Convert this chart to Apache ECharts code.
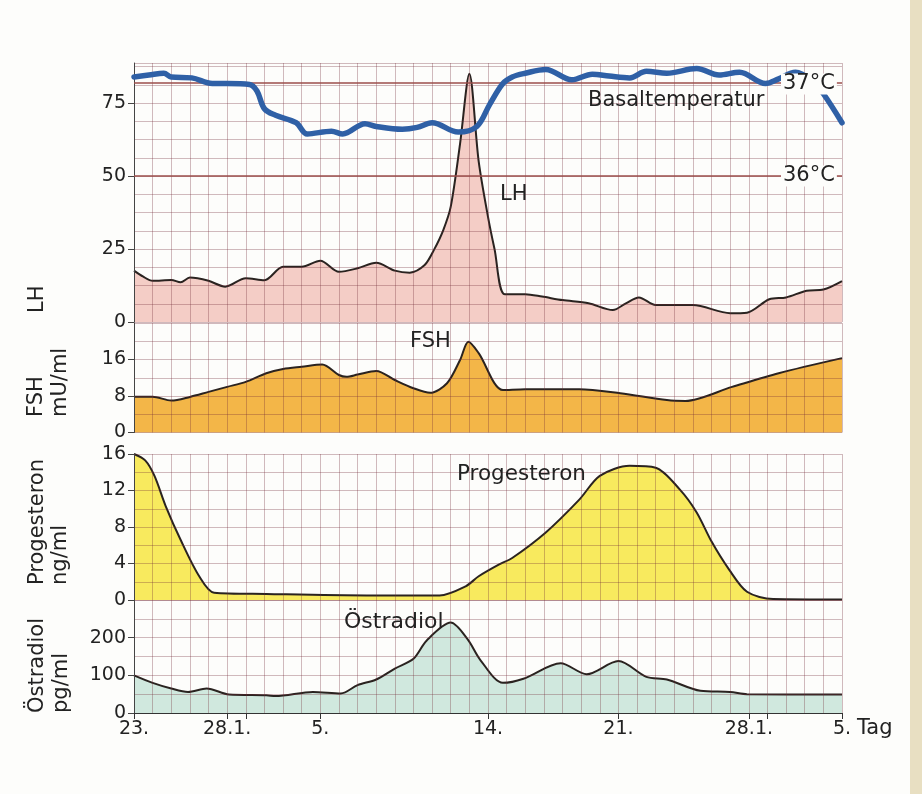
<!DOCTYPE html>
<html><head><meta charset="utf-8">
<script src="https://cdn.jsdelivr.net/npm/echarts@6/dist/echarts.min.js"></script>
<style>html,body{margin:0;padding:0;background:#fdfdfb}#c{width:922px;height:794px}</style>
</head><body><div id="c"></div>
<script>
// ---------- data (day index 0..38, value) ----------
const xTickDays   = [0, 5, 6, 10, 19, 26, 33, 34, 38];
const xLabelDays  = [0, 5, 10, 19, 26, 33, 38];
const xLabelTexts = ['23.', '28.1.', '5.', '14.', '21.', '28.1.', '5.'];

const lhTicks   = [0, 25, 50, 75];
const fshTicks  = [0, 8, 16];
const progTicks = [0, 4, 8, 12, 16];
const estrTicks = [0, 100, 200];

const tempRefLines = [36, 37];

const lhData = [[0,17.6],[0.5,15.5],[1,14.1],[2,14.4],[2.5,13.6],[3,15.2],[4,14.1],[4.9,12.1],[6,15.0],[7,14.3],[8,18.9],[9,18.9],[10,21.0],[11,17.2],[12,18.4],[13,20.3],[14,17.6],[14.8,16.9],[15.6,19.5],[16.1,24.7],[16.6,31.5],[17,39.5],[17.5,61],[18,85],[18.5,55],[19,36],[19.35,25],[19.9,9.5],[21,9.5],[21.9,8.7],[23,7.5],[24.4,6.4],[25.7,4.1],[26.4,6.4],[27.1,8.4],[28,5.8],[30,5.8],[32,3.0],[32.9,3.2],[34.1,7.8],[35,8.4],[36.1,10.7],[37,11.1],[38,14.0]];

const tempData = [[0,37.06],[0.8,37.08],[1.6,37.10],[2,37.06],[3.1,37.05],[4.2,36.99],[5,36.99],[6.2,36.98],[6.6,36.91],[7,36.72],[7.6,36.65],[8.7,36.57],[9.3,36.45],[10.6,36.48],[11.2,36.45],[12.4,36.56],[13,36.53],[14.4,36.50],[15.2,36.52],[16,36.57],[17.4,36.47],[18.4,36.53],[19.1,36.77],[19.8,36.99],[20.3,37.06],[21,37.10],[22.1,37.14],[23.5,37.03],[24.6,37.09],[25.5,37.07],[26.6,37.05],[27.5,37.12],[28.6,37.10],[30.2,37.15],[31.4,37.08],[32.5,37.11],[33.9,36.99],[34.6,37.04],[35.5,37.11],[36.4,37.02],[37,36.88],[38,36.57]];

const fshData = [[0,7.85],[1,7.85],[2,7.0],[3,7.8],[4,8.9],[5,10.0],[6,11.1],[7.1,13.0],[8,13.9],[9,14.4],[10.1,14.9],[11,12.6],[11.4,12.2],[12,12.7],[13,13.5],[14,11.5],[15,9.7],[15.9,8.7],[16.8,10.8],[17.5,15.9],[17.95,19.9],[18.5,17.4],[19.8,9.3],[21,9.5],[23,9.5],[23.9,9.5],[26.1,8.6],[28.6,7.1],[29.6,6.9],[32.1,10.0],[34.6,13.0],[38,16.3]];

const progData = [[0,16.0],[0.6,15.3],[1.1,13.6],[1.7,10.3],[2.5,6.6],[3.5,2.6],[4.3,0.8],[7.1,0.66],[12.5,0.5],[16.4,0.5],[17.8,1.5],[18.5,2.6],[19.6,3.9],[20.3,4.6],[22.1,7.4],[23.9,11.0],[25,13.6],[26.6,14.7],[28,14.5],[29.3,12.1],[30.2,9.6],[31,6.4],[31.95,3.3],[32.9,0.9],[34.3,0.1],[38,0.05]];

const estrData = [[0,100],[1,80],[2,65],[2.9,56],[3.9,65],[5.1,49],[7.1,47],[7.6,45],[9.6,56],[11.1,52],[12,74],[13,89],[14,118],[15,144],[15.7,192],[17,240],[17.9,196],[18.6,140],[19.8,80],[20.9,91],[22.9,132],[24.3,103],[26,138],[27.5,96],[28.6,89],[30.4,59],[32,56],[32.9,50],[38,49]];

// ---------- layout / style ----------
const FONT = 'DejaVu Sans';
const TXT = '#222';
const GRIDC = 'rgba(115,45,55,0.32)';
const LEFT = 134, RIGHT = 80;
const LH_MAX = 88.7;
const LH_PER_DEG = 32;          // 36°C at LH 50, 37°C at LH 82
const TEMP_MIN = 36 - 50 / LH_PER_DEG;
const TEMP_MAX = 36 + (LH_MAX - 50) / LH_PER_DEG;

const OFF = { show: false };

// grid-line axes (one per grid), drawn above the area fills
function xGridAx(i) {
  return {
    type: 'value', gridIndex: i, min: 0, max: 38, interval: 1, z: 3,
    position: i === 3 ? 'top' : 'bottom',
    axisLine: OFF, axisTick: OFF, axisLabel: OFF,
    splitLine: { show: true, lineStyle: { color: GRIDC, width: 1 } }
  };
}
function yGridAx(i, max, interval) {
  return {
    type: 'value', gridIndex: i, min: 0, max: max, interval: interval, z: 3,
    position: 'right',
    axisLine: OFF, axisTick: OFF, axisLabel: OFF,
    splitLine: { show: true, lineStyle: { color: GRIDC, width: 1 } }
  };
}
// label axes
const xLabelAx = {
  type: 'value', gridIndex: 3, min: 0, max: 38, position: 'bottom', z: 4,
  axisLine: { show: true, onZero: false, lineStyle: { color: '#333', width: 1 } },
  axisTick: { show: true, customValues: xTickDays, length: 6, lineStyle: { color: '#333' } },
  axisLabel: {
    show: true, customValues: xLabelDays, margin: 7,
    fontSize: 19, fontFamily: FONT, color: TXT,
    formatter: v => { const k = xLabelDays.indexOf(Math.round(v)); return k >= 0 ? xLabelTexts[k] : ''; }
  },
  splitLine: OFF
};
function yLabelAx(i, max, ticks) {
  return {
    type: 'value', gridIndex: i, min: 0, max: max, position: 'left', z: 4,
    axisLine: { show: true, onZero: false, lineStyle: { color: '#444', width: 1 } },
    axisTick: { show: true, customValues: ticks, length: 6, lineStyle: { color: '#444' } },
    axisLabel: { show: true, customValues: ticks, margin: 8, fontSize: 19, fontFamily: FONT, color: TXT },
    splitLine: OFF
  };
}
const lineBase = (xi, yi, data, fill) => ({
  type: 'line', xAxisIndex: xi, yAxisIndex: yi, data: data,
  smooth: 0.3, symbol: 'none', z: 2, silent: true,
  lineStyle: { color: '#2a2320', width: 2 },
  areaStyle: { color: fill, opacity: 1 }
});

function txt(text, x, y, size, rot, bg) {
  const st = { text: text, fontSize: size, fontFamily: FONT, fill: TXT,
               align: 'left', verticalAlign: 'middle',
               textAlign: 'left', textVerticalAlign: 'middle' };
  if (bg) { st.backgroundColor = bg; st.padding = [0, 2]; }
  return { type: 'text', x: x, y: y, rotation: rot || 0, z: 20, style: st };
}
const R90 = Math.PI / 2;

const option = {
  animation: false,
  backgroundColor: '#fdfdfb',
  grid: [
    { left: LEFT, right: RIGHT, top: 63, height: 259 },
    { left: LEFT, right: RIGHT, top: 323, height: 109.5 },
    { left: LEFT, right: RIGHT, top: 454, height: 146 },
    { left: LEFT, right: RIGHT, top: 600, height: 113 }
  ],
  // xAxis 0..3: grid lines, 4: bottom labels
  xAxis: [xGridAx(0), xGridAx(1), xGridAx(2), xGridAx(3), xLabelAx],
  // yAxis 0..3: grid lines, 4..7: labels, 8: temperature
  yAxis: [
    yGridAx(0, LH_MAX, 6.25),
    yGridAx(1, 24, 4),
    yGridAx(2, 16, 2),
    yGridAx(3, 300, 50),
    yLabelAx(0, LH_MAX, lhTicks),
    yLabelAx(1, 24, fshTicks),
    yLabelAx(2, 16, progTicks),
    yLabelAx(3, 300, estrTicks),
    { type: 'value', gridIndex: 0, min: TEMP_MIN, max: TEMP_MAX, show: false, position: 'right', offset: 40 }
  ],
  series: [
    lineBase(0, 0, lhData, '#f4cdc6'),
    lineBase(1, 1, fshData, '#f3b648'),
    lineBase(2, 2, progData, '#f8ea5e'),
    lineBase(3, 3, estrData, '#d0e8de'),
    {
      type: 'line', xAxisIndex: 0, yAxisIndex: 8, data: [], z: 4, silent: true,
      markLine: {
        silent: true, symbol: 'none', animation: false,
        lineStyle: { color: '#9b4e4b', width: 1.6, type: 'solid' },
        label: { show: false },
        data: tempRefLines.map(t => ({ yAxis: t }))
      }
    },
    {
      type: 'line', xAxisIndex: 0, yAxisIndex: 8, data: tempData, z: 6, silent: true,
      smooth: 0.35, symbol: 'none',
      lineStyle: { color: '#2f60a6', width: 5.5, cap: 'round', join: 'round' }
    }
  ],
  graphic: [
    { type: 'rect', shape: { x: 910, y: 0, width: 12, height: 794 }, style: { fill: '#e8dfc2' }, z: 0 },
    txt('Basaltemperatur', 588, 101, 21),
    txt('LH', 500, 195, 21),
    txt('FSH', 410, 342, 21),
    txt('Progesteron', 457, 474, 21.5),
    txt('Östradiol', 344, 622, 22),
    txt('37°C', 781, 84, 21, 0, '#fdfdfb'),
    txt('36°C', 781, 176, 21, 0, '#fdfdfb'),
    txt('Tag', 857, 729, 21),
    txt('LH', 38, 313, 21, R90),
    txt('FSH', 37, 417, 21, R90),
    txt('mU/ml', 61, 417, 21, R90),
    txt('Progesteron', 38, 585, 21, R90),
    txt('ng/ml', 61, 585, 21, R90),
    txt('Östradiol', 38, 713, 21, R90),
    txt('pg/ml', 62, 713, 21, R90)
  ]
};

const chart = echarts.init(document.getElementById('c'), null, { renderer: 'canvas' });
chart.setOption(option);
</script>
</body></html>
